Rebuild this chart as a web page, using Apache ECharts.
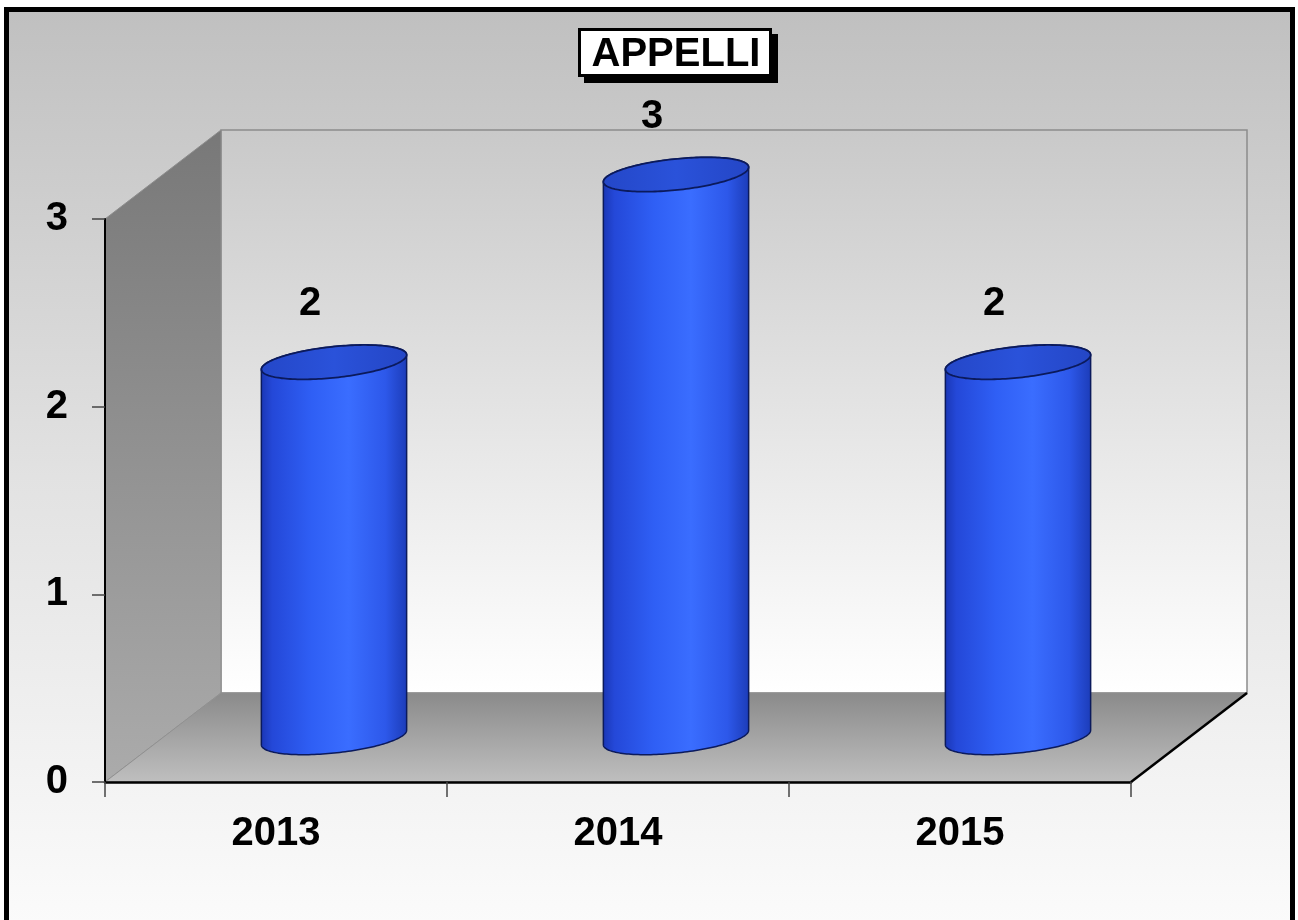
<!DOCTYPE html>
<html>
<head>
<meta charset="utf-8">
<script src="https://cdn.jsdelivr.net/npm/echarts@6/dist/echarts.min.js"></script>
<style>
html,body{margin:0;padding:0;width:1298px;height:920px;overflow:hidden;background:#ffffff;}
#bg{position:absolute;left:4px;top:7px;width:1281px;height:930px;border:5px solid #000;background:linear-gradient(to bottom,#c0c0c0 0%,#e2e2e2 50%,#fcfcfc 100%);}
#chart{position:absolute;left:0;top:0;width:1298px;height:920px;}
</style>
</head>
<body>
<div id="bg"></div>
<div id="chart"></div>
<script>
// ---- data ----
var categories = ['2013', '2014', '2015'];
var values = [2, 3, 2];
var yTicks = [0, 1, 2, 3];
var titleText = 'APPELLI';

// ---- style constants ----
var DX = 116, DY = -89;          // depth offset of the 3D box (px)
var THETA = -6 * Math.PI / 180;  // tilt of the cylinder ellipses
var EB = 15.5;                   // ellipse minor semi-axis (px)
var FONT = '"Liberation Sans", Arial, sans-serif';

var chart = echarts.init(document.getElementById('chart'), null, {renderer: 'canvas'});

function ellPt(cx, cy, a, b, t) {
  var c = Math.cos(THETA), s = Math.sin(THETA);
  return [cx + a * Math.cos(t) * c - b * Math.sin(t) * s,
          cy + a * Math.cos(t) * s + b * Math.sin(t) * c];
}

var frameSeries = {
  type: 'custom',
  silent: true,
  z: 1,
  data: [[0, 0]],
  renderItem: function (params, api) {
    var cs = params.coordSys;
    var L = cs.x, R = cs.x + cs.width, T = cs.y, B = cs.y + cs.height;
    return {
      type: 'group',
      children: [
        { // back wall
          type: 'rect',
          shape: {x: L + DX, y: T + DY, width: R - L, height: B - T},
          style: {
            fill: new echarts.graphic.LinearGradient(0, 0, 0, 1, [
              {offset: 0, color: '#c9c9c9'}, {offset: 1, color: '#ffffff'}]),
            stroke: '#8c8c8c', lineWidth: 1.5
          }
        },
        { // side wall
          type: 'polygon',
          shape: {points: [[L, T], [L + DX, T + DY], [L + DX, B + DY], [L, B]]},
          style: {
            fill: new echarts.graphic.LinearGradient(0, 0, 0, 1, [
              {offset: 0, color: '#787878'}, {offset: 1, color: '#ababab'}]),
            stroke: '#8c8c8c', lineWidth: 1
          }
        },
        { // floor
          type: 'polygon',
          shape: {points: [[L, B], [R, B], [R + DX, B + DY], [L + DX, B + DY]]},
          style: {
            fill: new echarts.graphic.LinearGradient(0, 0, 0, 1, [
              {offset: 0, color: '#8a8a8a'}, {offset: 1, color: '#bfbfbf'}]),
            stroke: '#909090', lineWidth: 1
          }
        },
        { // floor front-right edge
          type: 'line',
          shape: {x1: R, y1: B, x2: R + DX, y2: B + DY},
          style: {stroke: '#000', lineWidth: 2.5}
        }
      ]
    };
  }
};

var cylSeries = {
  type: 'custom',
  silent: true,
  z: 3,
  data: values.map(function (v, i) { return [i, v]; }),
  renderItem: function (params, api) {
    var cat = api.value(0), v = api.value(1);
    var base = api.coord([cat, 0]);
    var top = api.coord([cat, v]);
    var band = api.size([1, 0])[0];
    var a = band * 0.2135;
    var cx = base[0] + DX / 2;
    var yb = base[1] + DY / 2;
    var yt = top[1] + DY / 2;
    var tr = Math.atan(-(EB / a) * Math.tan(THETA));
    var N = 80, i, body = [], cap = [];
    for (i = 0; i <= N; i++) body.push(ellPt(cx, yb, a, EB, tr + Math.PI * i / N));
    for (i = 0; i <= N; i++) body.push(ellPt(cx, yt, a, EB, tr + Math.PI + Math.PI * i / N));
    for (i = 0; i < 2 * N; i++) cap.push(ellPt(cx, yt, a, EB, Math.PI * i / N));
    return {
      type: 'group',
      children: [
        {
          type: 'polygon',
          shape: {points: body},
          style: {
            fill: new echarts.graphic.LinearGradient(0, 0, 1, 0, [
              {offset: 0, color: '#1a36b4'},
              {offset: 0.08, color: '#2448d8'},
              {offset: 0.35, color: '#2f5ff5'},
              {offset: 0.6, color: '#3a6dff'},
              {offset: 0.85, color: '#2d58ea'},
              {offset: 1, color: '#1c3cb8'}]),
            stroke: '#0b1a5c', lineWidth: 1.5
          }
        },
        {
          type: 'polygon',
          shape: {points: cap},
          style: {
            fill: new echarts.graphic.LinearGradient(0, 0, 1, 0, [
              {offset: 0, color: '#2447c8'},
              {offset: 0.5, color: '#2a52da'},
              {offset: 1, color: '#2446c6'}]),
            stroke: '#0b1a5c', lineWidth: 1.8
          }
        },
        {
          type: 'text',
          style: {
            x: cx - 24, y: yt - 58,
            text: String(v),
            fill: '#000',
            font: 'bold 40px ' + FONT,
            align: 'center', verticalAlign: 'middle'
          }
        }
      ]
    };
  }
};

var option = {
  backgroundColor: 'transparent',
  animation: false,
  graphic: [
    { // title box shadow
      type: 'rect', z: 10,
      shape: {x: 584, y: 34, width: 194, height: 49},
      style: {fill: '#000'}
    },
    { // title box
      type: 'rect', z: 11,
      shape: {x: 579.5, y: 29.5, width: 191, height: 46},
      style: {fill: '#fff', stroke: '#000', lineWidth: 3}
    }
  ],
  title: {
    text: titleText,
    left: 676,
    top: 34,
    textAlign: 'center',
    padding: 0,
    z: 20,
    textStyle: {fontFamily: FONT, fontWeight: 'bold', fontSize: 40, color: '#000', lineHeight: 42}
  },
  grid: {left: 105, right: 167, top: 219, bottom: 138, containLabel: false},
  xAxis: {
    type: 'category',
    data: categories,
    boundaryGap: true,
    axisLine: {show: true, lineStyle: {color: '#000', width: 2.5}},
    axisTick: {show: true, length: 15, interval: 0, lineStyle: {color: '#444', width: 1.5}},
    axisLabel: {margin: 32, color: '#000', fontFamily: FONT, fontWeight: 'bold', fontSize: 40},
    splitLine: {show: false},
    z: 5
  },
  yAxis: {
    type: 'value',
    min: yTicks[0],
    max: yTicks[yTicks.length - 1],
    interval: 1,
    axisLine: {show: true, lineStyle: {color: '#000', width: 2}},
    axisTick: {show: true, length: 13, lineStyle: {color: '#444', width: 1.5}},
    axisLabel: {margin: 37, color: '#000', fontFamily: FONT, fontWeight: 'bold', fontSize: 40},
    splitLine: {show: false},
    z: 5
  },
  series: [frameSeries, cylSeries]
};
chart.setOption(option);
</script>
</body>
</html>
